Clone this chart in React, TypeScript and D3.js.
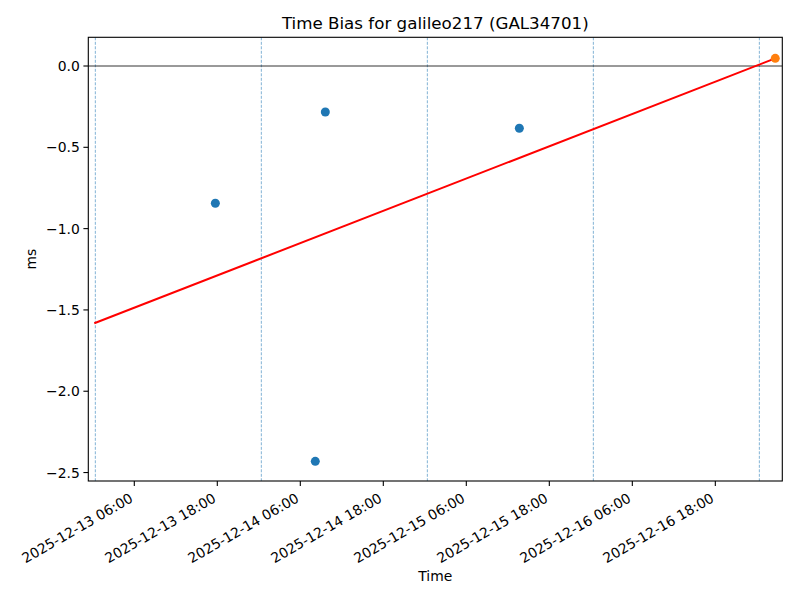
import React from "react";
import * as d3 from "d3";

const title = "Time Bias for galileo217 (GAL34701)";
const pointTimes = ["2025-12-13T17:43:00Z", "2025-12-14T08:10:00Z", "2025-12-14T09:37:00Z", "2025-12-15T13:40:00Z"];
const pointValues = [-0.844, -2.431, -0.283, -0.383];
const latestTime = ["2025-12-17T02:40:00Z"];
const latestValue = [0.047];
const fitTimes = ["2025-12-13T00:13:00Z", "2025-12-17T02:40:00Z"];
const fitValues = [-1.582, 0.047];
const dayLines = ["2025-12-13T00:22:00Z", "2025-12-14T00:22:00Z", "2025-12-15T00:22:00Z", "2025-12-16T00:22:00Z", "2025-12-17T00:22:00Z"];
const xTicks = ["2025-12-13T06:00:00Z", "2025-12-13T18:00:00Z", "2025-12-14T06:00:00Z", "2025-12-14T18:00:00Z", "2025-12-15T06:00:00Z", "2025-12-15T18:00:00Z", "2025-12-16T06:00:00Z", "2025-12-16T18:00:00Z"];
const yTicks = [0.0, -0.5, -1.0, -1.5, -2.0, -2.5];
const xDomain = ["2025-12-12T23:21:00Z", "2025-12-17T03:41:00Z"];
const yDomain = [-2.552, 0.1765];

const W = 800, H = 600;
const L = 88.3, R = 782.3, T = 37.3, B = 481;
const FONT = "DejaVu Sans, sans-serif";

export default function App() {
  const x = d3.scaleUtc().domain(xDomain.map((s) => new Date(s))).range([L, R]);
  const y = d3.scaleLinear().domain(yDomain).range([B, T]);
  const fmt = d3.utcFormat("%Y-%m-%d %H:%M");
  const yfmt = (v: number) => v.toFixed(1).replace("-", "\u2212");
  const line = d3.line<[Date, number]>().x((d) => x(d[0])).y((d) => y(d[1]));
  const fitData: [Date, number][] = fitTimes.map((t, i) => [new Date(t), fitValues[i]]);

  return (
    <svg width={W} height={H} style={{ display: "block", position: "absolute", left: 0, top: 0 }} fontFamily={FONT}>
      <rect x={0} y={0} width={W} height={H} fill="#fff" />
      <defs>
        <clipPath id="clip">
          <rect x={L} y={T} width={R - L} height={B - T} />
        </clipPath>
      </defs>
      <g clipPath="url(#clip)">
        {dayLines.map((d) => (
          <line key={d} x1={x(new Date(d))} x2={x(new Date(d))} y1={T} y2={B} stroke="#1f77b4" strokeOpacity={0.7} strokeWidth={0.8} strokeDasharray="3,1.5" />
        ))}
        <line x1={L} x2={R} y1={y(0)} y2={y(0)} stroke="#000" strokeWidth={0.8} />
        {pointTimes.map((t, i) => (
          <circle key={t} cx={x(new Date(t))} cy={y(pointValues[i])} r={4.5} fill="#1f77b4" />
        ))}
        <path d={line(fitData) || ""} fill="none" stroke="#ff0000" strokeWidth={2} />
        {latestTime.map((t, i) => (
          <circle key={t} cx={x(new Date(t))} cy={y(latestValue[i])} r={4.5} fill="#ff7f0e" />
        ))}
      </g>
      <rect x={L} y={T} width={R - L} height={B - T} fill="none" stroke="#000" strokeWidth={1.1} />
      {xTicks.map((t) => {
        const px = x(new Date(t));
        return (
          <g key={t}>
            <line x1={px} x2={px} y1={B} y2={B + 4.9} stroke="#000" strokeWidth={1.1} />
            <text transform={`translate(${px - 5.5},${B + 11}) rotate(-30)`} textAnchor="end" dominantBaseline="hanging" fontSize={13.9} fill="#000">
              {fmt(new Date(t))}
            </text>
          </g>
        );
      })}
      {yTicks.map((v) => (
        <g key={v}>
          <line x1={L - 4.9} x2={L} y1={y(v)} y2={y(v)} stroke="#000" strokeWidth={1.1} />
          <text x={L - 8.5} y={y(v)} textAnchor="end" dominantBaseline="central" fontSize={13.9} fill="#000">
            {yfmt(v)}
          </text>
        </g>
      ))}
      <text x={(L + R) / 2} y={29} textAnchor="middle" fontSize={16.7} fill="#000">{title}</text>
      <text x={(L + R) / 2} y={581} textAnchor="middle" fontSize={13.9} fill="#000">Time</text>
      <text transform={`translate(36,${(T + B) / 2}) rotate(-90)`} textAnchor="middle" fontSize={13.9} fill="#000">ms</text>
    </svg>
  );
}
